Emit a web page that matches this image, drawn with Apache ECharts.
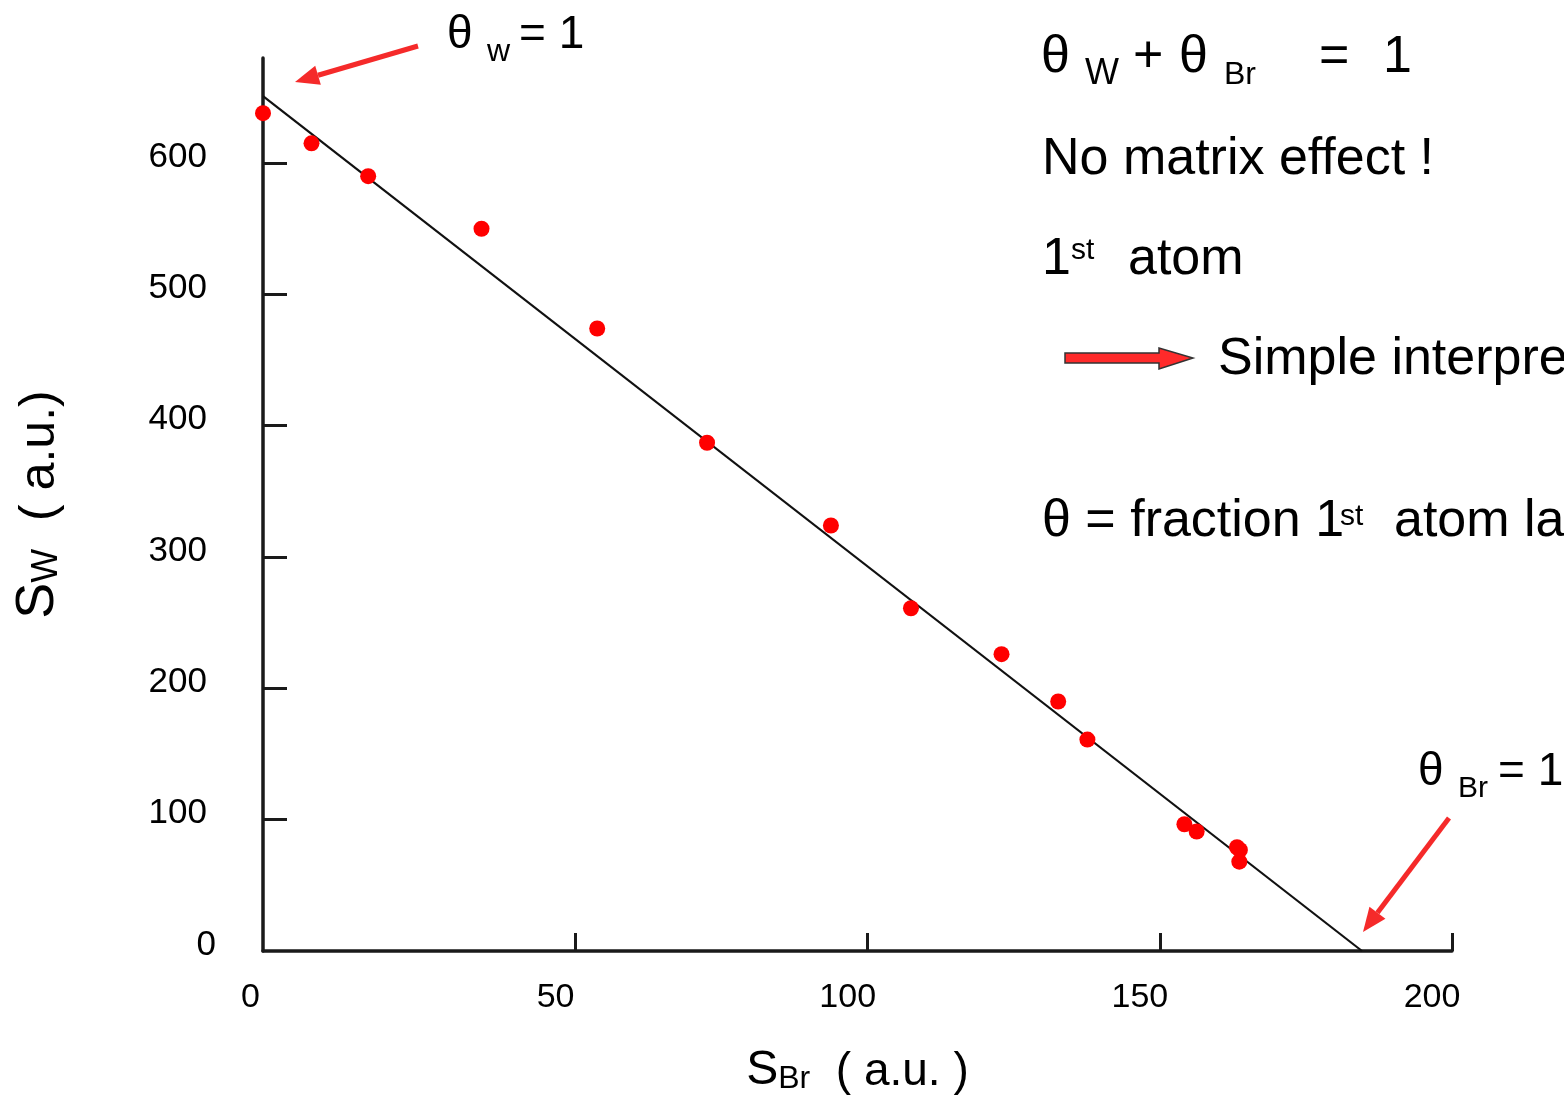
<!DOCTYPE html>
<html><head><meta charset="utf-8">
<script src="https://cdn.jsdelivr.net/npm/echarts@6/dist/echarts.min.js"></script>
<style>html,body{margin:0;padding:0;background:#fff;overflow:hidden}#c{width:1564px;height:1100px}</style>
</head><body><div id="c"></div>
<script>
// ---- data ----
const sBr = [-3.5, 4.8, 14.5, 33.9, 53.7, 72.5, 93.7, 107.4, 122.9, 132.6, 137.6, 154.2, 156.3, 163.2, 163.7, 163.6];
const sW  = [638, 615, 590, 550, 474, 387, 324, 261, 226, 190, 161, 96.5, 91, 79, 77, 68];
const fitBr = [-3.5, 184.6];
const fitW  = [651, 0];
const xLabelValues = [0, 50, 100, 150, 200];
const xTickValues  = [50, 100, 150, 200];
const yLabelValues = [0, 100, 200, 300, 400, 500, 600];
const yTickValues  = [100, 200, 300, 400, 500, 600];

const FF = "'Liberation Sans', Arial, Helvetica, sans-serif";
const AX = '#1a1a1a';

const points = sBr.map((x, i) => [x, sW[i]]);
const fit = fitBr.map((x, i) => [x, fitW[i]]);

function T(x, base, text, size) {
  return { type: 'text', x: x, y: base - 0.31 * size, z: 100,
    style: { text: text, fontSize: size, fontFamily: FF, fill: '#000', align: 'left', verticalAlign: 'middle' } };
}
function arrow(x1, y1, x2, y2, w, headLen, headHalf, color) {
  const dx = x2 - x1, dy = y2 - y1, L = Math.hypot(dx, dy);
  const ux = dx / L, uy = dy / L, px = -uy, py = ux;
  const bx = x2 - ux * headLen, by = y2 - uy * headLen;
  return [
    { type: 'line', z: 100, shape: { x1: x1, y1: y1, x2: bx, y2: by }, style: { stroke: color, lineWidth: w } },
    { type: 'polygon', z: 100, shape: { points: [[x2, y2], [bx + px * headHalf, by + py * headHalf], [bx - px * headHalf, by - py * headHalf]] }, style: { fill: color } }
  ];
}

const graphics = [].concat(
  // top-left annotation
  T(447, 50, 'θ', 46), T(487, 62, 'w', 32), T(519, 50, '= 1', 46),
  arrow(418, 46, 295, 82, 5, 24, 10, '#f52a2a'),
  // bottom-right annotation
  T(1418, 787, 'θ', 46), T(1458, 798, 'Br', 30), T(1498, 787, '= 1', 46),
  arrow(1449, 818, 1363, 932, 5, 24, 10, '#f52a2a'),
  // right text block
  T(1041, 74, 'θ', 52), T(1085, 85, 'W', 36), T(1133, 74, '+', 52), T(1179, 74, 'θ', 52),
  T(1224, 85, 'Br', 32), T(1319, 74, '=', 52), T(1383, 74, '1', 52),
  T(1042, 176, 'No matrix effect !', 52),
  T(1042, 276, '1', 52), T(1071, 260, 'st', 30), T(1128, 276, 'atom', 52),
  [{ type: 'polygon', z: 100, shape: { points: [[1065, 353], [1159, 353], [1159, 348], [1193, 358], [1159, 369], [1159, 363], [1065, 363]] },
     style: { fill: '#ff2a2a', stroke: '#333', lineWidth: 1.5 } }],
  T(1218, 376, 'Simple interpretation', 52),
  T(1042, 538, 'θ = fraction 1', 52), T(1340, 526, 'st', 30), T(1394, 538, 'atom layer', 52)
);

const chart = echarts.init(document.getElementById('c'), null, { renderer: 'canvas' });
chart.setOption({
  animation: false,
  backgroundColor: '#fff',
  grid: { left: 263, right: 112, top: 58, bottom: 149, containLabel: false, outerBoundsMode: 'none' },
  xAxis: {
    type: 'value', min: -3.5, max: 200,
    name: '{s|S}{b|Br}{n|  ( a.u. )}', nameLocation: 'middle', nameGap: 92,
    nameTextStyle: { rich: {
      s: { fontSize: 48, fontFamily: FF, color: '#000', verticalAlign: 'bottom', lineHeight: 52 },
      b: { fontSize: 32, fontFamily: FF, color: '#000', verticalAlign: 'bottom', lineHeight: 24 },
      n: { fontSize: 46, fontFamily: FF, color: '#000', verticalAlign: 'bottom', lineHeight: 52 } } },
    axisLine: { show: true, onZero: false, lineStyle: { color: AX, width: 3.5 } },
    axisTick: { show: true, inside: true, length: 18, customValues: xTickValues, lineStyle: { color: AX, width: 3 } },
    axisLabel: { customValues: xLabelValues, margin: 30, fontSize: 34, fontFamily: FF, color: '#000', padding: [0, 40, 0, 0],
      formatter: v => v === 0 ? '{z|0}' : '{n|' + v + '}',
      rich: { z: { fontSize: 34, fontFamily: FF, color: '#000', padding: [0, 26, 0, 0] },
              n: { fontSize: 34, fontFamily: FF, color: '#000' } } },
    splitLine: { show: false }
  },
  yAxis: {
    type: 'value', min: 0, max: 680,
    name: '{s|S}{w|W}{n|  ( a.u.)}', nameLocation: 'middle', nameGap: 198,
    nameTextStyle: { rich: {
      s: { fontSize: 54, fontFamily: FF, color: '#000', verticalAlign: 'bottom', lineHeight: 58 },
      w: { fontSize: 36, fontFamily: FF, color: '#000', verticalAlign: 'bottom', lineHeight: 38 },
      n: { fontSize: 50, fontFamily: FF, color: '#000', verticalAlign: 'bottom', lineHeight: 58 } } },
    axisLine: { show: true, onZero: false, lineStyle: { color: AX, width: 3.5 } },
    axisTick: { show: true, inside: true, length: 24, customValues: yTickValues, lineStyle: { color: AX, width: 3 } },
    axisLabel: { customValues: yLabelValues, margin: 47, fontSize: 35, fontFamily: FF, color: '#000', padding: [0, 0, 12, 0],
      formatter: v => v === 0 ? '{z|0}' : '{n|' + v + '}',
      rich: { z: { fontSize: 35, fontFamily: FF, color: '#000' },
              n: { fontSize: 35, fontFamily: FF, color: '#000', padding: [0, 9, 0, 0] } } },
    splitLine: { show: false }
  },
  series: [
    { type: 'line', data: fit, symbol: 'none', lineStyle: { color: '#111', width: 2.2 }, z: 2, silent: true },
    { type: 'scatter', data: points, symbol: 'circle', symbolSize: 16, itemStyle: { color: '#ff0000', opacity: 1 }, z: 3, clip: false }
  ],
  graphic: graphics
});
</script>
</body></html>
